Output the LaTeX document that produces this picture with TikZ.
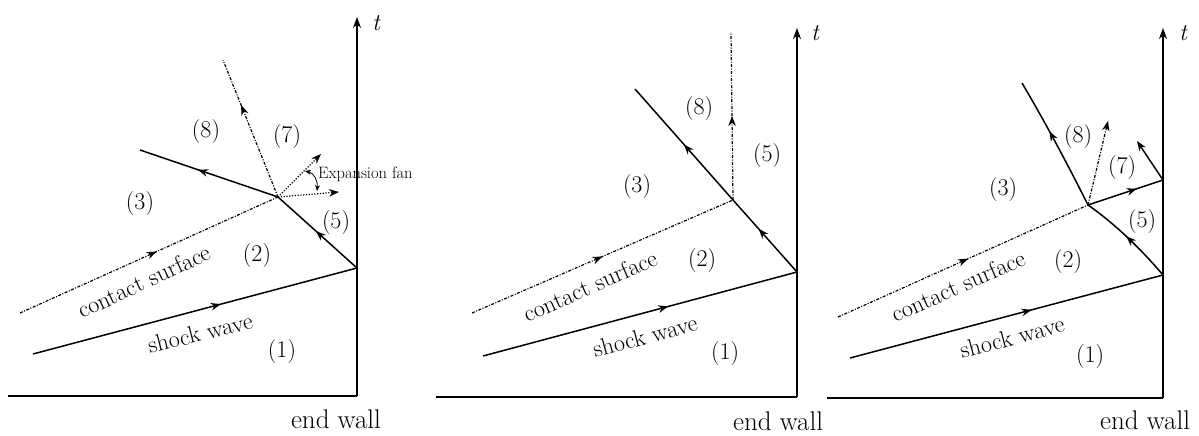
\documentclass[tikz,border=0pt]{standalone}
\usetikzlibrary{arrows.meta,decorations.markings}
\begin{document}
\begin{tikzpicture}[x=1pt,y=-1pt,
  wave/.style={line width=1.5pt},
  contact/.style={line width=1.2pt, dash pattern=on 3pt off 1.5pt on 1pt off 1.5pt},
  fanline/.style={line width=1.2pt, dash pattern=on 1.2pt off 1.6pt},
  axisline/.style={line width=1.6pt},
  axisarrow/.style={line width=1.6pt,-{Stealth[length=11pt,width=8pt]}},
  endtip/.style={-{Stealth[length=10pt,width=7.5pt]}},
  midarrow/.style={postaction={decorate,decoration={markings,mark=at position #1 with {\arrow{Stealth[length=10pt,width=7.5pt]}}}}},
  lbl/.style={font=\rmfamily\fontsize{24}{28}\selectfont, inner sep=0pt},
  wall/.style={font=\rmfamily\fontsize{27}{32}\selectfont, inner sep=0pt},
  tlbl/.style={font=\rmfamily\fontsize{24}{28}\selectfont\itshape, inner sep=0pt},
  small/.style={font=\rmfamily\fontsize{16.5}{19}\selectfont, inner sep=0pt, anchor=west},
]
\useasboundingbox (0,0) rectangle (1199,436);

% ================= Panel 1 =================
\coordinate (a0) at (357,396);
\coordinate (aL) at (8,396);
\coordinate (aT) at (357,17);
\coordinate (s0) at (33,354);
\coordinate (w1) at (357,268);
\coordinate (j1) at (278,197);
\coordinate (r1) at (140,150);
\coordinate (c0) at (20,313);
\coordinate (ct) at (223,60);
\coordinate (f1) at (321,154);
\coordinate (f2) at (339,192);
\coordinate (e1) at (305,171);
\coordinate (e2) at (317,191);

\draw[axisline] (aL) -- (a0);
\draw[axisarrow] (a0) -- (aT);
\node[tlbl] (t1) at (376,23) {t};
\draw[wave, midarrow=0.58] (s0) -- (w1);
\draw[wave, midarrow=0.52] (w1) -- (j1);
\draw[wave, midarrow=0.58] (j1) -- (r1);
\draw[contact, midarrow=0.53] (c0) -- (j1);
\draw[contact, midarrow=0.67] (j1) -- (ct);
\draw[fanline, endtip] (j1) -- (f1);
\draw[fanline, endtip] (j1) -- (f2);
\draw[line width=0.8pt, {Stealth[length=6pt,width=5pt]}-{Stealth[length=6pt,width=5pt]}] (e1) .. controls (314,173) and (318,181) .. (e2);
\node[small] (fan) at (318,174) {Expansion fan};
\node[lbl] (n8a) at (206,132) {(8)};
\node[lbl] (n7a) at (287,137) {(7)};
\node[lbl] (n3a) at (140,204) {(3)};
\node[lbl] (n5a) at (336,223) {(5)};
\node[lbl] (n2a) at (257,256) {(2)};
\node[lbl] (n1a) at (282,352) {(1)};
\node[lbl, rotate=25] (csa) at (144,281) {contact surface};
\node[lbl, rotate=14] (swa) at (200,333) {shock wave};
\node[wall] (ewa) at (336,419) {end wall};

% ================= Panel 2 =================
\coordinate (b0) at (797,397);
\coordinate (bL) at (436,397);
\coordinate (bT) at (797,28);
\coordinate (s2) at (483,356);
\coordinate (w2) at (797,272);
\coordinate (j2) at (733,200);
\coordinate (r2) at (635,89);
\coordinate (c2) at (472,313);
\coordinate (v2) at (731,32);

\draw[axisline] (bL) -- (b0);
\draw[axisarrow] (b0) -- (bT);
\node[tlbl] (t2) at (815,33) {t};
\draw[wave, midarrow=0.59] (s2) -- (w2);
\draw[wave, midarrow=0.6] (w2) -- (j2);
\draw[wave, midarrow=0.5] (j2) -- (r2);
\draw[contact, midarrow=0.5] (c2) -- (j2);
\draw[contact, midarrow=0.5] (j2) -- (v2);
\node[lbl] (n8b) at (699,109) {(8)};
\node[lbl] (n5b) at (767,156) {(5)};
\node[lbl] (n3b) at (637,187) {(3)};
\node[lbl] (n2b) at (702,261) {(2)};
\node[lbl] (n1b) at (725,354) {(1)};
\node[lbl, rotate=24] (csb) at (590,286) {contact surface};
\node[lbl, rotate=15] (swb) at (645,336) {shock wave};
\node[wall] (ewb) at (778,421) {end wall};

% ================= Panel 3 =================
\coordinate (d0) at (1163,398);
\coordinate (dL) at (827,398);
\coordinate (dT) at (1163,28);
\coordinate (s3) at (850,358);
\coordinate (w3) at (1163,275);
\coordinate (j3) at (1088,205);
\coordinate (r3) at (1022,83);
\coordinate (c3) at (838,317);
\coordinate (k3) at (1163,180);
\coordinate (q3) at (1137,141);
\coordinate (v3) at (1108,121);

\draw[axisline] (dL) -- (d0);
\draw[axisarrow] (d0) -- (dT);
\node[tlbl] (t3) at (1183,33) {t};
\draw[wave, midarrow=0.58] (s3) -- (w3);
\draw[wave, midarrow=0.52] (w3) .. controls (1140,248) and (1115,224) .. (j3);
\draw[wave, midarrow=0.6] (j3) .. controls (1067,163) and (1045,122) .. (r3);
\draw[wave, midarrow=0.65] (j3) -- (k3);
\draw[wave, endtip] (k3) -- (q3);
\draw[contact, endtip] (j3) -- (v3);
\draw[contact, midarrow=0.52] (c3) -- (j3);
\node[lbl] (n8c) at (1078,137) {(8)};
\node[lbl] (n7c) at (1122,168) {(7)};
\node[lbl] (n3c) at (1003,190) {(3)};
\node[lbl] (n5c) at (1142,222) {(5)};
\node[lbl] (n2c) at (1068,262) {(2)};
\node[lbl] (n1c) at (1090,357) {(1)};
\node[lbl, rotate=24] (csc) at (958,286) {contact surface};
\node[lbl, rotate=15] (swc) at (1012,337) {shock wave};
\node[wall] (ewc) at (1145,420) {end wall};
\end{tikzpicture}
\end{document}
